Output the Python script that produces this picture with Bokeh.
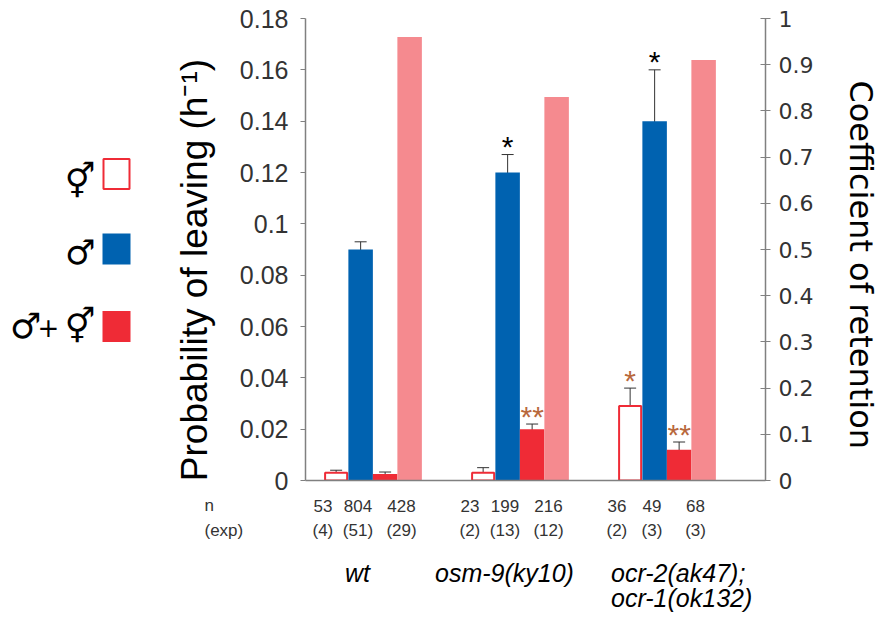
from bokeh.plotting import figure
from bokeh.models import (Range1d, LinearAxis, FixedTicker, ColumnDataSource,
                          Whisker, TeeHead)
from bokeh.layouts import row, column
from bokeh.embed import file_html
from bokeh.resources import INLINE
from bokeh.core.properties import value

# ---------------- data ----------------
genotypes = ["wt", "osm-9(ky10)", "ocr-2(ak47);\nocr-1(ok132)"]

herm_leave = [0.003, 0.003, 0.029]     # hermaphrodites alone (open red)
herm_err = [0.001, 0.002, 0.007]
male_leave = [0.090, 0.120, 0.140]     # males alone (blue)
male_err = [0.003, 0.007, 0.020]
mix_leave = [0.0025, 0.020, 0.012]     # males + hermaphrodites (red)
mix_err = [0.0008, 0.002, 0.003]
retention = [0.96, 0.83, 0.91]         # coefficient of retention (pink, right axis)

sig_herm = ["", "", "*"]
sig_male = ["", "*", "*"]
sig_mix = ["", "**", "**"]

n_herm = ["53", "23", "36"]
n_male = ["804", "199", "49"]
n_mix = ["428", "216", "68"]
exp_herm = ["(4)", "(2)", "(2)"]
exp_male = ["(51)", "(13)", "(3)"]
exp_mix = ["(29)", "(12)", "(3)"]
row_titles = ["n", "(exp)"]

left_ticks = [0, 0.02, 0.04, 0.06, 0.08, 0.1, 0.12, 0.14, 0.16, 0.18]
left_tick_labels = ["0", "0.02", "0.04", "0.06", "0.08", "0.1", "0.12", "0.14", "0.16", "0.18"]
right_ticks = [0, 0.1, 0.2, 0.3, 0.4, 0.5, 0.6, 0.7, 0.8, 0.9, 1.0]
right_tick_labels = ["0", "0.1", "0.2", "0.3", "0.4", "0.5", "0.6", "0.7", "0.8", "0.9", "1"]

left_title = "Probability of leaving (h\u207B\u00B9)"
right_title = "Coefficient of retention"
legend_symbols = ["\u26A5", "\u2642", "\u2642+\u26A5"]

# ---------------- layout constants (page pixels) ----------------
FIRST = 1.25          # centre of first bar (bar units)
STEP = 6.0            # distance between groups
U = 24.5              # pixels per bar unit
FW, FH = 460, 462     # frame size of the main plot
LEGW = 155            # legend panel width
BL, BR, BT, BB = 150, 117, 18, 14
TOP_H = BT + FH + BB
BOT_H = 122
PX = 0.18 / FH        # left-axis data units per pixel
NBSP = "\u00A0"

RED = "#ef2b36"
BLUE = "#0062b0"
PINK = "#f58a8f"
BROWN = "#b8683c"
ERR = "#333333"
GRAY = "#808080"

def xs(series):
    return [FIRST + STEP * g + series for g in range(len(genotypes))]

p = figure(frame_width=FW, frame_height=FH, output_backend="svg",
           toolbar_location=None,
           x_range=Range1d(0, FW / U), y_range=Range1d(0, 0.18),
           min_border_left=BL, min_border_right=BR, min_border_top=BT,
           min_border_bottom=BB)
p.outline_line_color = None
p.xgrid.visible = False
p.ygrid.visible = False
p.extra_y_ranges = {"ret": Range1d(0, 1.0)}

# bars
p.vbar(x=xs(0), top=herm_leave, width=0.9, fill_color="white",
       line_color=RED, line_width=2)
p.vbar(x=xs(1), top=male_leave, width=1.0, fill_color=BLUE, line_color=None)
p.vbar(x=xs(2), top=mix_leave, width=1.0, fill_color=RED, line_color=None)
p.vbar(x=xs(3), top=retention, width=1.0, fill_color=PINK, line_color=None,
       y_range_name="ret")

# error bars
for s, vals, errs in [(0, herm_leave, herm_err), (1, male_leave, male_err),
                      (2, mix_leave, mix_err)]:
    src = ColumnDataSource(dict(x=xs(s),
                                lo=[v - e for v, e in zip(vals, errs)],
                                hi=[v + e for v, e in zip(vals, errs)]))
    w = Whisker(source=src, base="x", lower="lo", upper="hi",
                line_color=ERR, line_width=1,
                upper_head=TeeHead(size=12, line_color=ERR, line_width=1),
                lower_head=TeeHead(size=12, line_color=ERR, line_width=1))
    p.add_layout(w)

# significance stars
for s, vals, errs, sig, col in [(0, herm_leave, herm_err, sig_herm, BROWN),
                                (1, male_leave, male_err, sig_male, "black"),
                                (2, mix_leave, mix_err, sig_mix, BROWN)]:
    xx, yy, tt = [], [], []
    for x, v, e, t in zip(xs(s), vals, errs, sig):
        if t:
            xx.append(x); yy.append(v + e + 8 * PX); tt.append(t)
    p.text(x=xx, y=yy, text=tt, text_align="center", text_baseline="alphabetic",
           text_color=col, text_font=value("Liberation Sans"),
           text_font_size="30px")

# axes
ya = p.yaxis[0]
ya.ticker = FixedTicker(ticks=left_ticks)
ya.major_label_overrides = {t: l for t, l in zip(left_ticks, left_tick_labels)}
ya.axis_label = left_title + NBSP * 4
ya.axis_label_text_font = "Liberation Sans"
ya.axis_label_text_font_size = "37px"
ya.axis_label_text_font_style = "normal"
ya.axis_label_text_color = "black"
ya.axis_label_standoff = 22
ya.major_label_text_font = "Liberation Sans"
ya.major_label_text_font_size = "25px"
ya.major_label_text_color = "#333333"
ya.major_label_standoff = 12
ya.axis_line_color = GRAY
ya.axis_line_width = 1.5
ya.major_tick_line_color = GRAY
ya.major_tick_out = 5
ya.major_tick_in = 0
ya.minor_tick_line_color = None

ra = LinearAxis(y_range_name="ret", ticker=FixedTicker(ticks=right_ticks))
ra.major_label_overrides = {t: l for t, l in zip(right_ticks, right_tick_labels)}
ra.axis_label = NBSP * 3 + right_title
ra.axis_label_text_font = "DejaVu Sans"
ra.axis_label_text_font_size = "32px"
ra.axis_label_text_font_style = "normal"
ra.axis_label_text_color = "black"
ra.axis_label_standoff = 26
ra.major_label_text_font = "DejaVu Sans"
ra.major_label_text_font_size = "22px"
ra.major_label_text_color = "#333333"
ra.major_label_standoff = 8
ra.axis_line_color = GRAY
ra.axis_line_width = 1.5
ra.major_tick_line_color = GRAY
ra.major_tick_out = 5
ra.major_tick_in = 5
ra.minor_tick_line_color = None
p.add_layout(ra, "right")

xa = p.xaxis[0]
xa.ticker = FixedTicker(ticks=[])
xa.axis_line_color = GRAY
xa.axis_line_width = 1.5
xa.major_tick_line_color = None
xa.minor_tick_line_color = None
xa.major_tick_out = 0
xa.major_tick_in = 0
xa.major_label_standoff = 0

# ---------------- bottom panel: n / (exp) and genotype labels ----------------
bot = figure(width=LEGW + BL + FW + BR, height=BOT_H, output_backend="svg",
             toolbar_location=None,
             x_range=Range1d(-(LEGW + BL) / U, (FW + BR) / U),
             y_range=Range1d(TOP_H + BOT_H, TOP_H), min_border=0)
bot.axis.visible = False
bot.grid.visible = False
bot.outline_line_color = None

N_OFF = [-0.54, -0.11, 0.67]
n_x, n_t, e_t = [], [], []
for s, nn, ee in [(0, n_herm, exp_herm), (1, n_male, exp_male), (2, n_mix, exp_mix)]:
    for x, a, b in zip(xs(s), nn, ee):
        n_x.append(x + N_OFF[s]); n_t.append(a); e_t.append(b)
ROW_Y = [505, 530]
for yrow, texts in zip(ROW_Y, [n_t, e_t]):
    bot.text(x=n_x, y=[yrow] * len(n_x), text=texts, text_align="center",
             text_baseline="middle", text_font=value("Liberation Sans"),
             text_font_size="17px", text_color="#333333")
bot.text(x=[-101 / U] * 2, y=ROW_Y, text=row_titles, text_align="left",
         text_baseline="middle", text_font=value("Liberation Sans"),
         text_font_size="17px", text_color="#333333")

G_ALIGN = ["center", "center", "left"]
G_ANCHOR = [xs(1)[0] - 0.13, xs(1)[1] - 0.13, xs(0)[2] - 0.78]
gx, gy, gt, ga = [], [], [], []
for gi, name in enumerate(genotypes):
    for li, line in enumerate(name.split("\n")):
        gx.append(G_ANCHOR[gi]); gy.append(572 + 25 * li); gt.append(line)
        ga.append(G_ALIGN[gi])
for al in ["center", "left"]:
    idx = [i for i, a in enumerate(ga) if a == al]
    bot.text(x=[gx[i] for i in idx], y=[gy[i] for i in idx],
             text=[gt[i] for i in idx], text_align=al, text_baseline="middle",
             text_font=value("Liberation Sans"), text_font_style="italic",
             text_font_size="25px", text_color="black")

# ---------------- legend panel ----------------
leg = figure(frame_width=LEGW, frame_height=FH, output_backend="svg",
             toolbar_location=None,
             x_range=Range1d(0, LEGW), y_range=Range1d(BT + FH, BT),
             min_border_left=0, min_border_right=0, min_border_top=BT,
             min_border_bottom=BB)
leg.axis.visible = False
leg.grid.visible = False
leg.outline_line_color = None
key_y = [173.5, 248.5, 326]
sym_y = [180, 251, 325]
leg.rect(x=[116], y=[key_y[0]], width=26, height=30, fill_color="white",
         line_color=RED, line_width=2)
leg.rect(x=[116], y=[key_y[1]], width=28, height=31, fill_color=BLUE, line_color=None)
leg.rect(x=[116], y=[key_y[2]], width=28, height=31, fill_color=RED, line_color=None)
leg.text(x=[95, 95], y=sym_y[:2], text=legend_symbols[:2], text_align="right",
         text_baseline="middle", text_font=value("DejaVu Sans"),
         text_font_size="34px", text_color="black")
left_sym, right_sym = legend_symbols[2].split("+")
leg.text(x=[95], y=[sym_y[2]], text=[right_sym], text_align="right",
         text_baseline="middle", text_font=value("DejaVu Sans"),
         text_font_size="34px", text_color="black")
leg.text(x=[48], y=[sym_y[2] + 1], text=["+"], text_align="center",
         text_baseline="middle", text_font=value("DejaVu Sans"),
         text_font_size="26px", text_color="black")
leg.text(x=[41], y=[sym_y[2]], text=[left_sym], text_align="right",
         text_baseline="middle", text_font=value("DejaVu Sans"),
         text_font_size="35px", text_color="black")

layout = column(row(leg, p), bot)
open("out.html", "w").write(file_html(layout, INLINE))
